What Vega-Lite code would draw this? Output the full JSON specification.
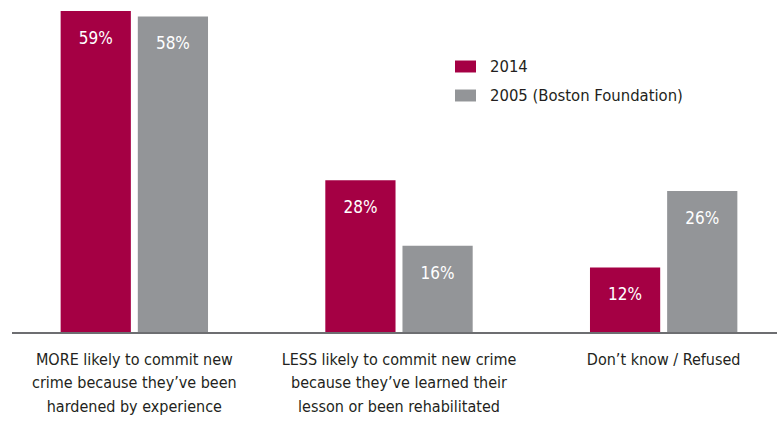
{
  "$schema": "https://vega.github.io/schema/vega-lite/v6.json",
  "autosize": {"type": "none"},
  "padding": {"left": 12, "top": 0, "right": 0, "bottom": 88},
  "width": 765,
  "height": 333,
  "config": {
    "view": {"stroke": null},
    "font": "DejaVu Sans Condensed, sans-serif"
  },
  "data": {
    "values": [
      {"category": "MORE likely to commit new|crime because they’ve been|hardened by experience", "series": "2014", "value": 59},
      {"category": "MORE likely to commit new|crime because they’ve been|hardened by experience", "series": "2005 (Boston Foundation)", "value": 58},
      {"category": "LESS likely to commit new crime|because they’ve learned their|lesson or been rehabilitated", "series": "2014", "value": 28},
      {"category": "LESS likely to commit new crime|because they’ve learned their|lesson or been rehabilitated", "series": "2005 (Boston Foundation)", "value": 16},
      {"category": "Don’t know / Refused", "series": "2014", "value": 12},
      {"category": "Don’t know / Refused", "series": "2005 (Boston Foundation)", "value": 26}
    ]
  },
  "layer": [
    {
      "mark": {"type": "bar"},
      "encoding": {
        "x": {
          "field": "category", "type": "nominal", "sort": null, "title": null,
          "scale": {"range": [-10, 784], "paddingInner": 0, "paddingOuter": 0},
          "axis": {
            "domain": false, "ticks": false, "labelAngle": 0,
            "labelExpr": "split(datum.value, '|')",
            "labelFontSize": 16, "labelLineHeight": 23.5, "labelColor": "#231f20",
            "labelPadding": 18, "labelBaseline": "top", "labelLimit": 400
          }
        },
        "xOffset": {
          "field": "series", "type": "nominal",
          "sort": ["2014", "2005 (Boston Foundation)"],
          "scale": {"paddingInner": 0.09, "paddingOuter": 0.76}
        },
        "y": {
          "field": "value", "type": "quantitative",
          "scale": {"domain": [0, 61], "nice": false},
          "axis": null
        },
        "color": {
          "field": "series", "type": "nominal",
          "sort": ["2014", "2005 (Boston Foundation)"],
          "scale": {"domain": ["2014", "2005 (Boston Foundation)"], "range": ["#a50044", "#939598"]},
          "legend": {
            "title": null, "orient": "none", "legendX": 443, "legendY": 56,
            "padding": 0, "rowPadding": 10, "labelOffset": 14,
            "symbolType": "M-1,-0.57H1V0.57H-1Z", "symbolSize": 441,
            "symbolStrokeWidth": 0, "symbolOpacity": 1,
            "labelFontSize": 16.5, "labelColor": "#231f20", "labelLimit": 400
          }
        }
      }
    },
    {
      "mark": {"type": "text", "color": "white", "fontSize": 17, "baseline": "middle", "dy": 28},
      "transform": [{"calculate": "datum.value + '%'", "as": "label"}],
      "encoding": {
        "x": {"field": "category", "type": "nominal", "sort": null},
        "xOffset": {"field": "series", "type": "nominal", "sort": ["2014", "2005 (Boston Foundation)"]},
        "y": {"field": "value", "type": "quantitative"},
        "text": {"field": "label", "type": "nominal"}
      }
    },
    {
      "data": {"values": [{}]},
      "mark": {"type": "rule", "color": "#6d6e71", "strokeWidth": 2},
      "encoding": {"y": {"datum": 0}}
    }
  ]
}
